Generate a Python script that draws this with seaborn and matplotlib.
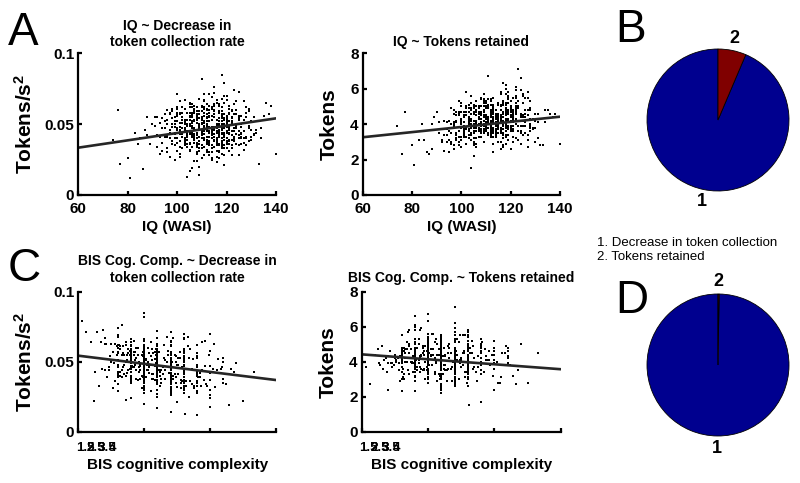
import matplotlib
matplotlib.use('Agg')
import matplotlib.pyplot as plt
import numpy as np
import pandas as pd
import seaborn as sns

# ---------------- data ----------------
iq = [112, 98, 121, 105, 117, 109, 126, 77, 113, 101, 119, 108, 131, 115, 103, 122, 97, 110, 125, 106,
      114, 100, 118, 92, 127, 111, 104, 120, 116, 89, 108, 123, 99, 113, 129, 107, 118, 102, 115, 110,
      96, 121, 109, 134, 105, 117, 112, 100, 124, 91, 113, 119, 106, 128, 103, 111, 116, 95, 122, 108,
      118, 104, 127, 110, 99, 115, 121, 107, 113, 87, 120, 102, 116, 130, 109, 97, 114, 124, 105, 112,
      101, 119, 111, 93, 125, 108, 117, 103, 136, 114, 98, 122, 110, 106, 118, 128, 100, 115, 109, 120,
      107, 113, 96, 123, 116, 104, 119, 111, 74, 126, 112, 99, 117, 105, 121, 114, 108, 132, 102, 118,
      115, 109, 124, 101, 112, 85, 120, 106, 117, 113, 97, 127, 110, 104, 119, 116, 94, 122, 108, 111,
      103, 118, 114, 129, 99, 121, 107, 113, 116, 92, 124, 110, 105, 119, 112, 100, 125, 117, 109, 133,
      120, 106, 111, 98, 115, 122, 104, 118, 76, 113, 108, 126, 101, 117, 114, 96, 121, 110, 107, 123,
      112, 100, 119, 116, 105, 128, 109, 114, 95, 120, 103, 117, 111, 88, 124, 106, 118, 113, 102, 130,
      108, 121, 115, 99, 112, 126, 104, 119, 110, 93, 117, 107, 123, 114, 100, 116, 111, 135, 105, 120,
      118, 102, 113, 109, 125, 97, 116, 121, 106, 112, 81, 119, 108, 127, 103, 115, 110, 122, 99, 114,
      111, 124, 105, 117, 80, 120, 113, 107, 128, 101, 116, 109, 119, 95, 122, 112, 104, 118, 138, 110,
      106, 115, 121, 100, 113, 118, 108, 125, 96, 111, 117, 103, 120, 114, 86, 109, 123, 107, 116, 102,
      119, 110, 98, 122, 112, 105, 117, 130, 101, 114, 120, 108, 94, 116, 111, 126, 104, 118, 113, 140,
      109, 116, 103, 121, 99, 113, 125, 107, 118, 111, 94, 120, 105, 128, 114, 101, 117, 110, 123, 108,
      115, 97, 112, 119, 106, 124, 102, 116, 109, 131, 113, 100, 118, 107, 122, 111, 90, 126, 104, 117,
      120, 108, 114, 98, 127, 111, 105, 119, 116, 102, 123, 109, 113, 96, 121, 106, 129, 112, 118, 100,
      104, 122, 110, 117, 93, 115, 108, 126, 101, 119, 112, 106, 124, 114, 99, 118, 109, 132, 103, 116,
      113, 107, 120, 100, 116, 111, 128, 105, 118, 95, 122, 109, 114, 103, 125, 117, 108, 121, 84, 112,
      118, 102, 115, 109, 123, 106, 119, 113, 98, 127, 110, 116, 104, 121, 112, 107, 130, 101, 117, 114,
      106, 119, 111, 124, 100, 116, 108, 121, 113, 97, 118, 110, 126, 105, 115, 120, 103, 112, 137, 109,
      121, 105, 117, 112, 99, 125, 108, 115, 119, 102, 114, 123, 107, 111, 96, 118, 129, 104, 116, 110,
      101, 114, 122, 107, 118, 91, 113, 120, 106, 124, 110, 117, 100, 115, 127, 109, 119, 103, 112, 121,
      116, 108, 125, 111, 103, 119, 114, 98, 122, 106, 117, 131, 109, 113, 101, 120, 107, 124, 115, 83,
      110, 123, 104, 117, 112, 96, 120, 108, 115, 126, 102, 118, 111, 105, 121, 114, 99, 128, 107, 116,
      119, 106, 113, 101, 124, 110, 117, 104, 122, 115, 108, 97, 120, 112, 127, 103, 116, 109, 134, 118,
      105, 117, 110, 121, 98, 114, 107, 125, 112, 119, 103, 116, 122, 108, 92, 118, 111, 129, 106, 113,
      114, 100, 119, 108, 116, 123, 105, 111, 128, 102, 117, 113, 94, 121, 109, 115, 106, 120, 112, 126,
      107, 120, 112, 103, 118, 110, 124, 99, 115, 121, 106, 113, 130, 109, 117, 101, 122, 111, 88, 119]

# decrease in token collection rate, in 1/1000 tokens/s^2
rate_milli = [52, 38, 61, 44, 35, 57, 48, 22, 41, 66, 50, 29, 43, 72, 37, 55, 46, 63, 40, 34,
              48, 31, 68, 42, 53, 39, 58, 45, 27, 36, 51, 74, 44, 60, 38, 24, 49, 55, 43, 82,
              33, 47, 54, 40, 62, 30, 45, 71, 36, 49, 58, 41, 19, 55, 46, 34, 65, 52, 28, 44,
              57, 42, 37, 50, 25, 63, 44, 39, 56, 46, 70, 33, 48, 52, 14, 58, 40, 47, 53, 36,
              45, 39, 61, 51, 56, 43, 31, 67, 65, 47, 54, 42, 26, 49, 59, 35, 40, 76, 48, 53,
              37, 55, 42, 64, 44, 50, 28, 47, 39, 41, 60, 35, 52, 32, 46, 69, 53, 44, 58, 38,
              43, 36, 57, 48, 30, 40, 51, 62, 45, 38, 27, 66, 54, 41, 79, 49, 37, 45, 24, 56,
              52, 44, 35, 47, 40, 58, 46, 63, 31, 55, 49, 42, 17, 53, 39, 47, 73, 41, 50, 22,
              38, 56, 43, 50, 59, 33, 45, 48, 60, 37, 54, 43, 29, 64, 46, 41, 52, 35, 61, 47,
              49, 44, 54, 40, 36, 62, 47, 33, 57, 45, 51, 26, 58, 42, 50, 44, 37, 71, 55, 41,
              42, 63, 48, 55, 39, 50, 34, 57, 44, 29, 52, 46, 40, 61, 37, 45, 28, 56, 49, 67,
              46, 53, 41, 59, 35, 44, 50, 38, 47, 64, 12, 43, 57, 51, 40, 34, 53, 60, 48, 45,
              40, 48, 55, 42, 26, 36, 52, 43, 58, 38, 47, 68, 44, 41, 54, 32, 49, 85, 63, 46,
              51, 39, 46, 57, 45, 54, 37, 42, 30, 62, 48, 35, 56, 44, 18, 50, 39, 58, 47, 43,
              50, 45, 36, 52, 48, 31, 59, 46, 43, 53, 40, 56, 47, 35, 51, 44, 13, 62, 38, 29,
              47, 53, 39, 61, 44, 35, 56, 42, 50, 67, 31, 48, 58, 40, 45, 27, 63, 51, 38, 54,
              41, 57, 46, 33, 52, 60, 44, 37, 49, 55, 28, 62, 43, 47, 39, 71, 50, 36, 58, 45,
              54, 40, 48, 59, 32, 46, 65, 42, 38, 51, 57, 20, 44, 53, 36, 49, 61, 47, 29, 56,
              39, 50, 62, 45, 41, 55, 34, 48, 58, 43, 37, 64, 47, 30, 52, 40, 57, 46, 53, 35,
              48, 59, 37, 52, 44, 66, 41, 55, 33, 47, 50, 38, 62, 45, 28, 54, 43, 57, 36, 49,
              43, 51, 46, 38, 57, 42, 35, 60, 48, 53, 40, 67, 44, 31, 55, 47, 39, 58, 50, 26,
              55, 42, 49, 36, 61, 45, 53, 39, 47, 58, 34, 50, 43, 64, 38, 52, 46, 41, 57, 33,
              46, 37, 58, 50, 43, 54, 30, 48, 65, 41, 56, 39, 52, 45, 60, 35, 49, 44, 23, 53,
              51, 44, 39, 63, 47, 55, 41, 36, 58, 49, 33, 52, 46, 57, 40, 68, 44, 50, 38, 61,
              38, 57, 45, 52, 40, 48, 62, 43, 35, 55, 49, 42, 59, 30, 46, 53, 41, 66, 47, 44,
              59, 41, 53, 46, 37, 50, 44, 62, 39, 56, 47, 34, 51, 43, 58, 25, 48, 55, 42, 49,
              44, 52, 38, 57, 48, 42, 64, 36, 51, 46, 59, 40, 33, 54, 45, 61, 39, 50, 47, 56,
              50, 36, 55, 43, 61, 47, 40, 53, 45, 70, 38, 49, 42, 57, 34, 52, 46, 59, 41, 48,
              42, 58, 47, 35, 53, 45, 56, 39, 51, 62, 44, 37, 54, 48, 31, 60, 43, 50, 57, 40,
              53, 40, 61, 47, 36, 55, 43, 50, 64, 38, 57, 45, 52, 41, 48, 34, 59, 46, 55, 21]

# tokens retained, in 1/10 tokens
tokens_tenths = [42, 35, 47, 38, 51, 40, 44, 47, 29, 37, 55, 33, 41, 46, 36, 49, 28, 43, 52, 39,
                 45, 31, 40, 37, 58, 34, 48, 42, 26, 44, 50, 39, 33, 47, 43, 36, 62, 29, 41, 38,
                 30, 46, 42, 48, 35, 39, 54, 27, 45, 41, 37, 58, 32, 40, 49, 44, 35, 24, 50, 43,
                 48, 40, 31, 45, 36, 52, 39, 47, 33, 23, 44, 38, 57, 42, 30, 46, 41, 36, 49, 53,
                 35, 43, 51, 25, 39, 47, 34, 44, 46, 40, 32, 56, 37, 42, 29, 48, 38, 45, 52, 41,
                 44, 36, 40, 49, 30, 42, 47, 38, 39, 55, 34, 46, 41, 28, 45, 37, 50, 43, 33, 60,
                 39, 48, 42, 36, 44, 31, 53, 40, 47, 35, 26, 45, 38, 43, 37, 51, 34, 46, 41, 67,
                 37, 45, 41, 43, 33, 39, 50, 35, 48, 30, 44, 40, 22, 46, 38, 42, 34, 53, 36, 28,
                 47, 40, 35, 45, 39, 43, 31, 51, 23, 42, 37, 48, 34, 44, 41, 29, 55, 38, 46, 71,
                 40, 33, 46, 36, 42, 39, 48, 44, 31, 37, 41, 52, 35, 40, 45, 27, 43, 38, 50, 42,
                 36, 44, 39, 30, 47, 41, 35, 46, 43, 34, 37, 49, 42, 33, 40, 45, 38, 48, 32, 39,
                 41, 37, 48, 35, 44, 39, 30, 43, 45, 36, 17, 42, 46, 34, 40, 38, 41, 59, 28, 44,
                 43, 35, 40, 46, 28, 38, 33, 44, 49, 41, 36, 45, 39, 42, 47, 37, 34, 40, 46, 38,
                 39, 43, 37, 42, 46, 34, 41, 45, 38, 35, 44, 40, 36, 48, 24, 42, 39, 43, 37, 45,
                 42, 38, 34, 40, 45, 36, 41, 30, 39, 43, 47, 35, 37, 44, 40, 46, 15, 39, 42, 29,
                 44, 38, 51, 33, 47, 41, 56, 36, 42, 49, 30, 45, 39, 53, 34, 47, 28, 43, 50, 37,
                 35, 48, 41, 54, 29, 46, 38, 43, 57, 32, 44, 50, 36, 40, 61, 34, 47, 39, 52, 27,
                 50, 37, 44, 31, 55, 40, 47, 34, 42, 58, 36, 45, 24, 49, 41, 53, 38, 46, 33, 43,
                 39, 52, 36, 46, 42, 30, 55, 44, 37, 48, 33, 41, 59, 35, 45, 40, 50, 28, 47, 38,
                 46, 33, 49, 41, 37, 54, 43, 29, 47, 36, 52, 39, 44, 32, 57, 42, 35, 48, 40, 51,
                 36, 45, 40, 53, 31, 47, 38, 50, 42, 27, 44, 35, 56, 41, 48, 33, 46, 39, 63, 43,
                 48, 34, 43, 39, 52, 37, 45, 30, 55, 41, 38, 49, 35, 46, 42, 26, 51, 40, 44, 36,
                 41, 50, 37, 46, 33, 42, 54, 39, 31, 47, 44, 36, 49, 40, 35, 52, 43, 38, 58, 45,
                 33, 46, 42, 38, 49, 35, 51, 44, 40, 29, 53, 37, 47, 41, 34, 45, 56, 39, 48, 42,
                 45, 39, 34, 50, 43, 47, 36, 41, 55, 38, 32, 46, 42, 49, 37, 44, 40, 66, 35, 31,
                 40, 53, 46, 35, 42, 38, 48, 33, 51, 44, 37, 57, 41, 30, 47, 39, 45, 36, 43, 50,
                 47, 36, 41, 44, 39, 52, 34, 49, 42, 37, 55, 40, 45, 33, 48, 43, 38, 54, 41, 46,
                 38, 44, 50, 36, 47, 41, 33, 45, 39, 52, 42, 35, 48, 43, 31, 46, 40, 37, 53, 44,
                 43, 31, 47, 40, 45, 36, 51, 42, 38, 49, 34, 46, 41, 55, 37, 44, 39, 48, 35, 42,
                 37, 48, 42, 34, 46, 39, 44, 53, 41, 36, 50, 43, 38, 47, 40, 45, 32, 49, 26, 41]

bis = [9, 11.3, 8.4, 12, 10, 7.6, 13, 6.2, 10.7, 9, 12.4, 14, 8, 11, 15, 9.8, 10, 7, 12, 13.6,
       10, 12.8, 8, 11, 9.4, 14.2, 10, 6.8, 12, 9, 11.6, 8, 13, 10.3, 16, 9, 12, 7.9, 11, 10,
       13, 9, 10.5, 8.2, 12, 15, 11, 5.6, 9, 10, 11.8, 13, 16.4, 8.7, 10, 12, 9.2, 11, 14, 10,
       8, 12, 10, 9.6, 13.4, 11, 7.3, 10, 12, 9, 15, 11.2, 8.5, 10, 12, 13, 9, 11.5, 6.5, 10,
       12, 10, 9, 11, 8.8, 13, 10, 12.2, 14.6, 9, 11, 10.4, 12, 7.7, 9, 16, 11, 8.3, 10, 13,
       10.8, 9, 12, 8.6, 11, 13, 10, 14, 7.2, 12.6, 9.4, 11, 10, 15.4, 12, 8, 11, 10.2, 13, 9,
       11, 13.2, 9, 10, 12, 8.1, 10.6, 14, 11, 9.7, 12, 10, 7.4, 13, 5.3, 11, 12.8, 9, 15, 10,
       9, 11, 12.4, 10, 14, 8.9, 11, 7.8, 13, 10, 9.5, 12, 11, 16, 10.1, 12, 6.9, 10, 11.7, 17.5,
       12, 8.4, 10, 11, 9, 13.8, 12, 10.5, 8, 11, 9.9, 14, 12, 6, 10, 11.4, 13, 9, 8.2, 12,
       10, 11.1, 9, 12, 13.5, 8, 11, 14.8, 10, 12, 9.3, 15, 10, 11.9, 8.6, 12, 13, 6.4, 9, 11,
       11, 7.5, 10, 12.3, 9, 13, 11, 10, 14.4, 8, 12, 9.6, 11, 10, 13, 15.8, 12, 9, 10.9, 7,
       9.1, 12, 11, 10, 13, 8.8, 12, 11.3, 10, 9, 14, 10, 12.7, 8, 11, 16.2, 10, 9.5, 12, 11,
       10, 13, 8.3, 11, 12, 9, 10.8, 15, 11, 12, 9.7, 13.3, 10, 8.5, 11, 12.5, 9, 10, 7.1, 14,
       12, 10, 9.2, 11, 13, 10, 14.5, 8, 12, 11, 10.4, 9, 13, 11.6, 15, 10, 12, 8.9, 11, 18.3,
       11, 9, 12.9, 10, 8, 12, 10.6, 11, 13, 9.4, 10, 14, 12, 11.3, 8.7, 10, 13.1, 9, 16, 12,
       10, 12.6, 9, 11, 8.3, 13, 10.4, 12, 7.5, 11, 9.8, 14, 10, 12.2, 8.9, 11, 15.3, 9, 10.7, 13,
       11.4, 9, 12, 10, 13.7, 8, 11, 9.5, 12, 14.9, 10, 8.6, 11.2, 13, 9, 12, 10.3, 7.8, 11, 16.6,
       9, 11, 10.2, 13, 12, 8.4, 10, 14.2, 11.6, 9, 12, 10, 7, 13.4, 11, 9.3, 12, 15, 10.5, 8,
       12.4, 10, 9, 11, 14, 10.9, 8, 12, 13, 9.6, 11, 6.7, 12, 10, 15.6, 11, 9, 12.9, 10, 13,
       10, 8.2, 11, 12, 9.4, 13, 10, 11.8, 14.3, 9, 12, 10.6, 8, 11, 13, 10, 16.8, 9.2, 12, 11,
       13, 10.1, 12, 9, 11, 8.7, 14, 10, 12.5, 11, 9, 13, 10.3, 7.6, 12, 11, 9.9, 15, 10, 12,
       9.2, 12, 11, 10, 13.3, 9, 11.5, 8, 12, 10, 14.7, 11, 9.6, 12, 10, 13, 8.4, 11, 10.8, 6.6,
       11, 13, 9, 12.1, 10, 14, 11, 9.3, 12, 8, 10.7, 13, 11, 15.2, 10, 12, 9, 11.3, 8.6, 14,
       12, 9.7, 10, 11, 13, 8.5, 12.3, 10, 11, 9, 14, 12, 10.4, 13, 8, 11.7, 10, 16, 9, 12,
       10, 11, 13.6, 9, 12, 10.2, 8.1, 11, 12.8, 10, 9, 14, 11, 13, 7.3, 12, 10.6, 9, 11, 15.5,
       8.8, 12, 10, 11.4, 9, 13, 12, 10, 14.1, 11, 9.1, 12, 10, 8.2, 13, 11, 12.6, 9.5, 10, 17,
       11, 10, 12.2, 9, 13, 11, 10.5, 14, 8, 12, 11, 9.8, 13.2, 10, 12, 7.9, 11, 10, 14.6, 9,
       10.3, 13, 11, 9, 12, 10, 8.6, 12.7, 11, 13, 9.4, 10, 15, 11.1, 12, 10, 8, 13.5, 11, 9.7,
       12, 9, 10.8, 11, 14, 10, 12, 8.3, 13, 11.5, 10, 9, 12.4, 11, 13.8, 10, 6.3, 12, 9.9, 11,
       9, 11.2, 10, 13, 12, 8.9, 11, 10, 14.4, 12, 9.3, 11, 10.1, 13, 12, 8, 10.9, 15.9, 11, 12.5]

# fitted regression lines (end points)
fit_iq_x = [60, 140]
fit_iq_rate = [0.0334, 0.0541]
fit_iq_tokens = [3.26, 4.42]
fit_bis_x = [5, 20]
fit_bis_rate = [0.0543, 0.0369]
fit_bis_tokens = [4.42, 3.57]

# axis ticks / labels
iq_ticks = [60, 80, 100, 120, 140]
bis_ticks = [5, 10, 15, 20]
bis_ticklabels = ['1.5', '2', '2.5', '3', '3.5', '4']
rate_ticks = [0, 0.05, 0.1]
rate_ticklabels = ['0', '0.05', '0.1']
token_ticks = [0, 2, 4, 6, 8]

# pie charts
pie_labels = ['1', '2']
pie_B = [0.936, 0.064]
pie_D = [0.9975, 0.0025]
pie_colors = ['#00008F', '#800000']
legend_lines = ['1. Decrease in token collection', '2. Tokens retained']

# ---------------- styling ----------------
sns.set_theme(style='white')
plt.rcParams['font.family'] = ['Liberation Sans', 'DejaVu Sans']
plt.rcParams['font.weight'] = 'bold'
plt.rcParams['axes.titleweight'] = 'bold'
plt.rcParams['axes.labelweight'] = 'bold'
plt.rcParams['text.color'] = 'black'
plt.rcParams['axes.labelcolor'] = 'black'
plt.rcParams['xtick.color'] = 'black'
plt.rcParams['ytick.color'] = 'black'
plt.rcParams['mathtext.fontset'] = 'custom'
plt.rcParams['mathtext.rm'] = 'Liberation Sans:bold'
plt.rcParams['mathtext.it'] = 'Liberation Sans:bold'
plt.rcParams['mathtext.bf'] = 'Liberation Sans:bold'

df = pd.DataFrame({'iq': iq,
                   'rate': np.array(rate_milli) / 1000.0,
                   'tokens': np.array(tokens_tenths) / 10.0,
                   'bis': bis})

W, H = 800, 483
fig = plt.figure(figsize=(W / 100, H / 100), dpi=100)
fig.patch.set_facecolor('white')


def add_ax(l, t, r, b):
    return fig.add_axes([l / W, 1 - b / H, (r - l) / W, (b - t) / H])


def style(ax):
    for s in ['top', 'right']:
        ax.spines[s].set_visible(False)
    for s in ['left', 'bottom']:
        ax.spines[s].set_visible(True)
        ax.spines[s].set_linewidth(1.6)
        ax.spines[s].set_color('black')
    ax.tick_params(axis='both', direction='in', length=3, width=1.6,
                   labelsize=11, colors='black', bottom=True, left=True)
    ax.tick_params(axis='x', pad=5)
    ax.tick_params(axis='y', pad=3)
    for lab in ax.get_xticklabels() + ax.get_yticklabels():
        lab.set_fontweight('bold')
        lab.set_color('black')
    ax.grid(False)
    ax.set_facecolor('white')


line_kw = dict(color='#262626', linewidth=1.9)
pt_kw = dict(marker='s', s=3, color='black', linewidth=0, legend=False)

# A left: IQ ~ rate
ax1 = add_ax(78.3, 53.3, 276, 195)
sns.scatterplot(data=df, x='iq', y='rate', ax=ax1, **pt_kw)
sns.lineplot(x=fit_iq_x, y=fit_iq_rate, ax=ax1, **line_kw)
ax1.set_xlim(60, 140); ax1.set_ylim(0, 0.1)
ax1.set_xticks(iq_ticks)
ax1.set_yticks(rate_ticks); ax1.set_yticklabels(rate_ticklabels)
style(ax1)
ax1.set_xlabel('IQ (WASI)', fontsize=11, fontweight='bold', labelpad=3)
ax1.set_ylabel('Tokens/s$^{2}$', fontsize=15, fontweight='bold', labelpad=6)
ax1.set_title('IQ ~ Decrease in\ntoken collection rate', fontsize=10, fontweight='bold',
              pad=5, linespacing=1.25)

# A right: IQ ~ tokens
ax2 = add_ax(362.7, 53.3, 560, 195)
sns.scatterplot(data=df, x='iq', y='tokens', ax=ax2, **pt_kw)
sns.lineplot(x=fit_iq_x, y=fit_iq_tokens, ax=ax2, **line_kw)
ax2.set_xlim(60, 140); ax2.set_ylim(0, 8)
ax2.set_xticks(iq_ticks); ax2.set_yticks(token_ticks)
style(ax2)
ax2.set_xlabel('IQ (WASI)', fontsize=11, fontweight='bold', labelpad=3)
ax2.set_ylabel('Tokens', fontsize=15, fontweight='bold', labelpad=8)
ax2.set_title('IQ ~ Tokens retained', fontsize=10, fontweight='bold', pad=5)

# C left: BIS ~ rate
ax3 = add_ax(78.3, 291.7, 276, 431.7)
sns.scatterplot(data=df, x='bis', y='rate', ax=ax3, **pt_kw)
sns.lineplot(x=fit_bis_x, y=fit_bis_rate, ax=ax3, **line_kw)
ax3.set_xlim(5, 20); ax3.set_ylim(0, 0.1)
ax3.set_xticks(bis_ticks); ax3.set_xticklabels([''] * len(bis_ticks))
ax3.set_yticks(rate_ticks); ax3.set_yticklabels(rate_ticklabels)
style(ax3)
ax3.set_ylabel('Tokens/s$^{2}$', fontsize=15, fontweight='bold', labelpad=6)
ax3.set_title('BIS Cog. Comp. ~ Decrease in\ntoken collection rate', fontsize=10,
              fontweight='bold', pad=7, linespacing=1.25)

# C right: BIS ~ tokens
ax4 = add_ax(361.7, 291.7, 560.7, 431.7)
sns.scatterplot(data=df, x='bis', y='tokens', ax=ax4, **pt_kw)
sns.lineplot(x=fit_bis_x, y=fit_bis_tokens, ax=ax4, **line_kw)
ax4.set_xlim(5, 20); ax4.set_ylim(0, 8)
ax4.set_xticks(bis_ticks); ax4.set_xticklabels([''] * len(bis_ticks))
ax4.set_yticks(token_ticks)
style(ax4)
ax4.set_ylabel('Tokens', fontsize=15, fontweight='bold', labelpad=8)
ax4.set_title('BIS Cog. Comp. ~ Tokens retained', fontsize=10, fontweight='bold', pad=7)

for ax in (ax3, ax4):
    ax.set_xlabel('')
    ax.text(0.5, -0.185, 'BIS cognitive complexity', transform=ax.transAxes,
            ha='center', va='top', fontsize=11, fontweight='bold')
    # crowded tick labels as in the original
    for i, lab in enumerate(bis_ticklabels):
        ax.text(0.034 + i * 0.0278, -0.114, lab, transform=ax.transAxes,
                ha='center', va='center', fontsize=9.5, fontweight='bold')

# pies
for (vals, t, b) in [(pie_B, 49, 191), (pie_D, 294, 436)]:
    axp = add_ax(647, t, 789, b)
    wedges, texts = axp.pie(vals, colors=pie_colors, labels=pie_labels, startangle=90,
                            counterclock=True, labeldistance=1.17,
                            wedgeprops=dict(edgecolor='black', linewidth=0.6),
                            textprops=dict(fontsize=13, fontweight='bold', color='black'))
    for tx in texts:
        tx.set_ha('center'); tx.set_va('center')
    axp.set_xlim(-1, 1); axp.set_ylim(-1, 1)
    axp.set_aspect('equal')
    axp.axis('off')

# legend text
fig.text(597 / W, 1 - 243 / H, legend_lines[0], fontsize=9.5, fontweight='normal', va='center', ha='left')
fig.text(597 / W, 1 - 257 / H, legend_lines[1], fontsize=9.5, fontweight='normal', va='center', ha='left')

# panel letters
for letter, x, y in [('A', 8, 45), ('C', 8, 281), ('B', 615, 42), ('D', 615, 313)]:
    fig.text(x / W, 1 - y / H, letter, fontsize=33, fontweight='normal', va='baseline', ha='left')

fig.savefig('out.png', dpi=100, facecolor='white')
